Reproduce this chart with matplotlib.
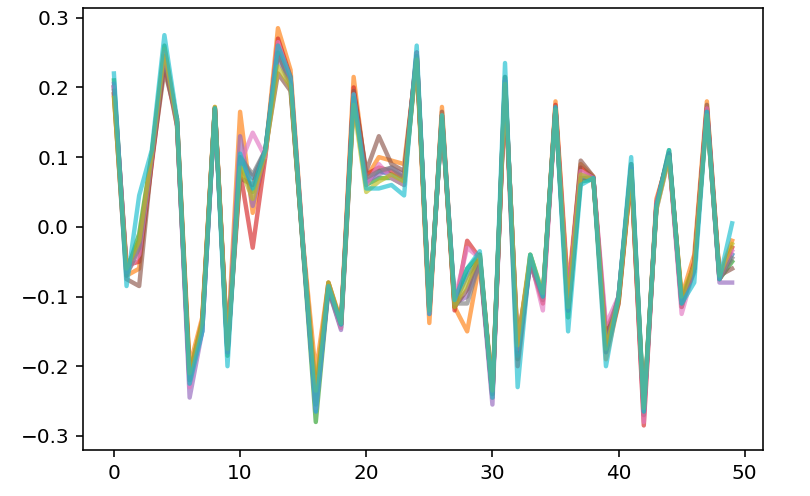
import matplotlib
matplotlib.use("Agg")
import matplotlib.pyplot as plt
import numpy as np

# one list per drawn trace, 50 samples each
s_blue = [.20, -.06, -.02, .10, .25, .15, -.22, -.15, .168, -.18,
          .10, .07, .11, .26, .21, -.03, -.26, -.085, -.14, .19,
          .065, .08, .075, .065, .25, -.12, .16, -.11, -.07, -.045,
          -.24, .21, -.18, -.05, -.1, .17, -.12, .07, .07, -.17,
          -.1, .085, -.265, .03, .105, -.11, -.06, .17, -.075, -.04]
s_orange = [.19, -.07, -.06, .095, .24, .155, -.20, -.13, .172, -.17,
            .165, .02, .105, .285, .225, -.025, -.21, -.08, -.135, .215,
            .07, .10, .095, .09, .24, -.138, .172, -.115, -.15, -.05,
            -.235, .205, -.17, -.045, -.105, .18, -.09, .09, .072, -.19,
            -.11, .075, -.27, .04, .1, -.1, -.04, .18, -.07, -.02]
s_green = [.21, -.065, -.01, .105, .26, .15, -.225, -.14, .17, -.185,
           .09, .05, .11, .25, .205, -.035, -.28, -.09, -.145, .185,
           .06, .07, .07, .06, .245, -.12, .155, -.105, -.06, -.04,
           -.245, .215, -.19, -.04, -.1, .17, -.13, .065, .068, -.16,
           -.1, .09, -.26, .03, .11, -.115, -.06, .165, -.075, -.05]
s_red = [.20, -.055, -.05, .09, .235, .145, -.215, -.135, .169, -.175,
         .08, -.03, .10, .27, .215, -.03, -.25, -.085, -.14, .2,
         .075, .085, .08, .07, .25, -.125, .16, -.12, -.02, -.045,
         -.24, .2, -.2, -.05, -.11, .175, -.1, .085, .07, -.15,
         -.105, .08, -.285, .035, .105, -.115, -.05, .17, -.075, -.03]
s_purple = [.205, -.06, -.03, .10, .25, .15, -.245, -.15, .171, -.18,
            .13, .03, .105, .245, .2, -.03, -.265, -.09, -.148, .18,
            .065, .075, .085, .075, .24, -.115, .155, -.11, -.1, -.05,
            -.255, .21, -.18, -.055, -.1, .165, -.12, .075, .07, -.17,
            -.1, .085, -.265, .025, .1, -.11, -.06, .165, -.08, -.08]
s_brown = [.19, -.075, -.085, .095, .225, .155, -.21, -.14, .17, -.175,
           .07, .06, .11, .22, .195, -.03, -.24, -.08, -.14, .195,
           .08, .13, .09, .08, .245, -.12, .165, -.115, -.09, -.04,
           -.24, .2, -.165, -.05, -.105, .17, -.11, .095, .072, -.18,
           -.11, .08, -.27, .03, .105, -.105, -.055, .175, -.07, -.06]
s_pink = [.20, -.065, -.04, .10, .25, .15, -.23, -.145, .168, -.18,
          .09, .135, .10, .265, .21, -.025, -.26, -.085, -.145, .19,
          .06, .09, .07, .06, .25, -.125, .16, -.105, -.03, -.045,
          -.245, .21, -.175, -.045, -.12, .17, -.1, .08, .07, -.14,
          -.1, .085, -.28, .035, .1, -.125, -.06, .17, -.075, -.035]
s_gray = [.195, -.07, -.03, .10, .245, .145, -.22, -.14, .17, -.18,
          .10, .075, .11, .25, .205, -.035, -.255, -.09, -.14, .185,
          .07, .08, .085, .07, .245, -.115, .155, -.11, -.11, -.05,
          -.24, .215, -.185, -.05, -.1, .17, -.12, .07, .07, -.17,
          -.1, .09, -.265, .03, .105, -.11, -.065, .165, -.075, -.045]
s_olive = [.185, -.06, -.02, .105, .255, .15, -.21, -.135, .172, -.175,
           .085, .04, .105, .23, .2, -.03, -.235, -.08, -.138, .175,
           .05, .065, .075, .065, .24, -.12, .16, -.115, -.08, -.04,
           -.235, .205, -.17, -.04, -.095, .168, -.115, .075, .068, -.175,
           -.105, .08, -.26, .025, .1, -.1, -.055, .16, -.07, -.025]
s_cyan = [.22, -.085, .045, .11, .275, .155, -.225, -.15, .17, -.2,
          .105, .055, .11, .26, .215, -.03, -.265, -.085, -.14, .19,
          .055, .055, .06, .045, .26, -.125, .16, -.105, -.06, -.035,
          -.245, .235, -.23, -.04, -.1, .172, -.15, .06, .07, -.2,
          -.1, .1, -.265, .03, .11, -.11, -.08, .165, -.075, .005]

traces = [s_blue, s_orange, s_green, s_red, s_purple,
          s_brown, s_pink, s_gray, s_olive, s_cyan]

fig = plt.figure(figsize=(810/144, 496/144), dpi=144)
ax = fig.add_subplot(111)
fig.subplots_adjust(left=0.1025, right=0.942, bottom=0.093, top=0.984)

for s in traces:
    x = np.arange(len(s))
    ax.plot(x, s, linewidth=2.2, alpha=0.65)

ax.set_ylim(-0.32, 0.314)
fig.savefig("out.png", dpi=144)
